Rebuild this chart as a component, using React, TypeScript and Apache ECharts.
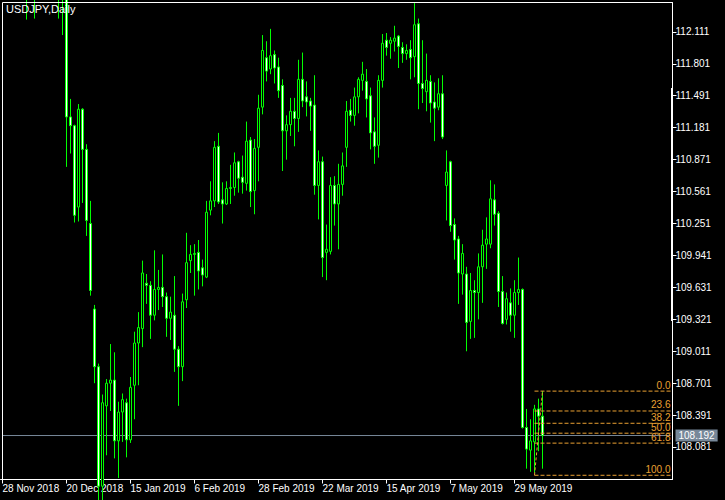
import React, { useEffect, useRef } from 'react';
import * as echarts from 'echarts';

// Trading days shown on the chart (broker calendar, no 25 Dec / 1 Jan bars)
const tradingMonths: [string, number[]][] = [
  ['Nov 2018', [28, 29, 30]],
  ['Dec 2018', [3, 4, 5, 6, 7, 10, 11, 12, 13, 14, 17, 18, 19, 20, 21, 24, 26, 27, 28, 31]],
  ['Jan 2019', [2, 3, 4, 7, 8, 9, 10, 11, 14, 15, 16, 17, 18, 21, 22, 23, 24, 25, 28, 29, 30, 31]],
  ['Feb 2019', [1, 4, 5, 6, 7, 8, 11, 12, 13, 14, 15, 18, 19, 20, 21, 22, 25, 26, 27, 28]],
  ['Mar 2019', [1, 4, 5, 6, 7, 8, 11, 12, 13, 14, 15, 18, 19, 20, 21, 22, 25, 26, 27, 28, 29]],
  ['Apr 2019', [1, 2, 3, 4, 5, 8, 9, 10, 11, 12, 15, 16, 17, 18, 19, 22, 23, 24, 25, 26, 29, 30]],
  ['May 2019', [1, 2, 3, 6, 7, 8, 9, 10, 13, 14, 15, 16, 17, 20, 21, 22, 23, 24, 27, 28, 29, 30, 31]],
  ['Jun 2019', [3, 4, 5, 6, 7]],
];
const categories: string[] = tradingMonths.flatMap(([m, days]) => days.map((d) => `${d} ${m}`));
const TOTAL_SLOTS = 168; // includes empty space to the right of the last bar

const opens = [
  113.80, 113.45, 113.45, 113.55, 113.60, 112.80, 113.20, 112.70, 112.65, 113.30,
  113.35, 113.55, 113.60, 113.40, 112.80, 112.50, 112.50, 111.285, 111.20, 110.41,
  111.36, 110.97, 110.25, 109.42, 108.86, 107.70, 108.48, 108.70, 108.73, 108.14,
  108.42, 108.51, 108.15, 108.68, 109.09, 109.23, 109.67, 109.65, 109.36, 109.61,
  109.63, 109.54, 109.33, 109.36, 109.03, 108.86, 109.51, 109.89, 109.95, 109.97,
  109.82, 109.73, 110.38, 110.47, 111.00, 110.48, 110.44, 110.59, 110.60, 110.85,
  110.70, 110.64, 111.06, 110.57, 110.99, 111.38, 111.86, 111.75, 111.89, 111.77,
  111.59, 111.15, 111.21, 111.34, 111.27, 111.65, 111.48, 111.44, 111.40, 110.62,
  110.85, 109.97, 109.98, 110.62, 110.44, 110.63, 110.99, 111.35, 111.30, 111.48,
  111.64, 111.63, 111.49, 111.14, 111.01, 111.64, 112.03, 112.00, 112.02, 112.07,
  111.96, 111.90, 111.94, 111.87, 112.19, 111.61, 111.53, 111.63, 111.43, 111.38,
  111.51, 110.62, 110.85, 110.24, 110.10, 109.76, 109.76, 109.30, 109.60, 109.58,
  109.83, 110.05, 110.05, 110.48, 110.35, 109.59, 109.32, 109.48, 109.36, 109.58,
  109.61, 108.27, 108.05, 108.13, 108.45, 108.38,
];
const closes = [
  113.45, 113.45, 113.55, 113.60, 112.80, 113.20, 112.70, 112.65, 113.30, 113.35,
  113.55, 113.60, 113.40, 112.80, 112.50, 112.50, 111.285, 111.20, 110.33, 111.36,
  110.97, 110.28, 109.60, 108.86, 107.70, 108.51, 108.70, 108.73, 108.14, 108.42,
  108.54, 108.15, 108.66, 109.09, 109.24, 109.77, 109.65, 109.36, 109.61, 109.63,
  109.54, 109.33, 109.39, 109.03, 108.86, 109.49, 109.87, 109.95, 109.96, 109.79,
  109.75, 110.36, 110.47, 110.99, 110.46, 110.44, 110.59, 110.60, 110.84, 110.69,
  110.65, 111.05, 110.56, 110.98, 111.37, 111.93, 111.73, 111.88, 111.76, 111.54,
  111.15, 111.21, 111.34, 111.27, 111.65, 111.44, 111.43, 111.39, 110.62, 110.85,
  109.92, 110.00, 110.62, 110.44, 110.63, 110.81, 111.34, 111.30, 111.48, 111.65,
  111.70, 111.46, 111.13, 111.00, 111.64, 112.00, 111.96, 112.03, 112.05, 111.97,
  111.90, 111.93, 111.86, 112.18, 111.61, 111.56, 111.64, 111.42, 111.37, 111.51,
  111.09, 110.75, 110.23, 110.09, 109.77, 109.96, 109.29, 109.60, 109.58, 109.83,
  110.04, 110.10, 110.49, 110.34, 109.59, 109.28, 109.52, 109.36, 109.58, 109.61,
  108.27, 108.06, 108.14, 108.45, 108.38, 108.192,
];
const lows = [
  113.30, 113.25, 113.30, 113.40, 112.75, 112.75, 112.23, 112.55, 112.24, 113.00,
  113.20, 113.40, 113.25, 112.60, 112.24, 112.08, 110.80, 110.93, 110.26, 110.27,
  110.45, 110.13, 109.55, 108.70, 104.90, 107.52, 108.00, 108.43, 107.97, 107.78,
  108.13, 107.98, 108.12, 108.35, 108.68, 109.05, 109.47, 109.13, 109.31, 109.41,
  109.44, 109.15, 109.12, 108.81, 108.48, 108.72, 109.43, 109.77, 109.55, 109.61,
  109.64, 109.72, 110.33, 110.41, 110.44, 110.25, 110.43, 110.44, 110.52, 110.55,
  110.54, 110.57, 110.41, 110.34, 110.66, 111.31, 111.63, 111.70, 111.61, 111.47,
  110.76, 110.87, 111.10, 111.00, 111.14, 111.38, 111.29, 111.15, 110.53, 110.29,
  109.73, 109.70, 109.95, 110.23, 110.00, 110.52, 110.80, 111.24, 111.20, 111.32,
  111.54, 111.28, 110.97, 110.83, 110.89, 111.57, 111.88, 111.85, 111.92, 111.76,
  111.81, 111.84, 111.65, 111.67, 111.36, 111.42, 111.34, 111.23, 111.05, 111.35,
  111.07, 110.28, 110.17, 109.90, 109.47, 109.56, 109.01, 109.13, 109.14, 109.32,
  109.48, 109.81, 110.01, 110.23, 109.44, 109.27, 109.27, 109.20, 109.14, 109.46,
  108.26, 107.87, 107.84, 107.83, 108.04, 107.87,
];
const highs = [
  114.00, 113.65, 113.75, 113.85, 113.70, 113.35, 113.25, 113.10, 113.35, 113.60,
  113.70, 113.70, 113.70, 113.50, 112.90, 112.65, 112.60, 111.46, 111.21, 111.41,
  111.37, 111.02, 110.47, 109.46, 108.89, 108.59, 108.74, 109.08, 109.00, 108.52,
  108.60, 108.55, 108.76, 109.20, 109.39, 109.89, 109.76, 109.69, 109.99, 109.80,
  109.95, 109.58, 109.54, 109.74, 109.06, 109.57, 110.16, 110.04, 110.05, 110.09,
  109.90, 110.47, 110.66, 111.05, 111.13, 110.65, 110.66, 110.82, 110.94, 110.86,
  110.91, 111.24, 111.09, 111.07, 111.50, 112.08, 112.02, 112.14, 111.93, 111.86,
  111.65, 111.30, 111.47, 111.47, 111.84, 111.91, 111.63, 111.47, 111.69, 110.96,
  110.90, 110.24, 110.70, 110.71, 110.83, 110.94, 111.44, 111.46, 111.57, 111.67,
  111.82, 111.75, 111.57, 111.28, 111.69, 112.09, 112.10, 112.06, 112.17, 112.08,
  112.01, 111.99, 112.03, 112.39, 112.24, 112.03, 111.90, 111.69, 111.62, 111.66,
  111.69, 110.96, 110.86, 110.30, 110.13, 110.05, 109.83, 109.77, 109.70, 109.96,
  110.19, 110.31, 110.67, 110.63, 110.37, 109.74, 109.58, 109.62, 109.70, 109.92,
  109.62, 108.45, 108.35, 108.49, 108.55, 108.623,
];

const priceTicks = [
  108.081, 108.391, 108.701, 109.011, 109.321, 109.631, 109.941,
  110.251, 110.561, 110.871, 111.181, 111.491, 111.801, 112.111,
];
const Y_MIN = 107.765;
const Y_MAX = 112.396;

const fiboLevels = [0, 23.6, 38.2, 50, 61.8, 100];
const fiboHigh = 108.623;
const fiboLow = 107.806;
const fiboLowIndex = 133;
const fiboHighIndex = 135;

const FONT = '"Liberation Sans", Arial, sans-serif';
const ORANGE = '#eaa032';
const GRAY = '#778899';
const GREEN = '#00ff00';

export default function App() {
  const ref = useRef<HTMLDivElement>(null);

  useEffect(() => {
    if (!ref.current) return;
    const chart = echarts.init(ref.current, null, { renderer: 'svg' });

    const xData = categories.concat(new Array(TOTAL_SLOTS - categories.length).fill(''));
    const candleData = opens.map((o, i) => [o, closes[i], lows[i], highs[i]]);
    const last = closes[closes.length - 1];
    const nBars = categories.length;
    const lastSlot = TOTAL_SLOTS - 1;
    const showEvery = (i: number) => i % 16 === 0 && i < nBars;

    const plainLine = {
      type: 'line',
      silent: true,
      animation: false,
      symbol: 'circle',
      symbolSize: 0,
      showSymbol: true,
      clip: false,
      emphasis: { disabled: true },
      z: 5,
    };

    const fiboSeries = fiboLevels.map((lv) => {
      const v = fiboHigh - ((fiboHigh - fiboLow) * lv) / 100;
      return {
        ...plainLine,
        name: `fibo ${lv}`,
        lineStyle: { color: ORANGE, type: [4, 2], width: 1 },
        itemStyle: { color: ORANGE },
        data: [
          { value: [fiboLowIndex, v], label: { show: false } },
          {
            value: [lastSlot, v],
            label: {
              show: true,
              position: 'top',
              align: 'right',
              distance: 1,
              formatter: lv.toFixed(1),
              color: ORANGE,
              fontSize: 10,
              fontFamily: FONT,
            },
          },
        ],
      };
    });

    const option: any = {
      animation: false,
      backgroundColor: '#000000',
      title: {
        text: 'USDJPY,Daily',
        left: 6,
        top: 3,
        padding: 0,
        textStyle: { color: '#ffffff', fontSize: 11, fontWeight: 'normal', fontFamily: FONT },
      },
      grid: {
        left: 0.5,
        right: 52.5,
        top: 2.5,
        bottom: 20.5,
        containLabel: false,
        outerBoundsMode: 'none',
      },
      xAxis: {
        type: 'category',
        data: xData,
        boundaryGap: true,
        axisLine: { show: true, lineStyle: { color: '#ffffff', width: 1 } },
        axisTick: {
          show: true,
          alignWithLabel: true,
          length: 4,
          interval: (i: number) => showEvery(i),
          lineStyle: { color: '#ffffff' },
        },
        axisLabel: {
          interval: (i: number) => showEvery(i),
          color: '#ffffff',
          fontSize: 10,
          fontFamily: FONT,
          align: 'left',
          margin: 4,
        },
        splitLine: { show: false },
      },
      yAxis: {
        type: 'value',
        position: 'right',
        min: Y_MIN,
        max: Y_MAX,
        scale: true,
        axisLine: { show: true, lineStyle: { color: '#ffffff', width: 1 } },
        axisTick: { show: true, length: 4, customValues: priceTicks, lineStyle: { color: '#ffffff' } },
        axisLabel: {
          customValues: priceTicks,
          formatter: (v: number) => v.toFixed(3),
          color: '#ffffff',
          fontSize: 10,
          fontFamily: FONT,
          margin: 3,
        },
        splitLine: { show: false },
      },
      series: [
        {
          type: 'candlestick',
          data: candleData,
          barWidth: 2,
          clip: true,
          z: 2,
          emphasis: { disabled: true },
          itemStyle: {
            color: '#000000',
            color0: '#ffffff',
            borderColor: GREEN,
            borderColor0: GREEN,
            borderColorDoji: GREEN,
            borderWidth: 1,
          },
        },
        {
          ...plainLine,
          name: 'price',
          z: 1,
          lineStyle: { color: GRAY, type: 'solid', width: 1 },
          itemStyle: { color: GRAY },
          data: [
            { value: [0, last], label: { show: false } },
            { value: [lastSlot, last], label: { show: false } },
          ],
          endLabel: {
            show: true,
            formatter: last.toFixed(3),
            backgroundColor: GRAY,
            color: '#ffffff',
            padding: [1, 3, 1, 3],
            fontSize: 10,
            fontFamily: FONT,
            distance: 5,
          },
        },
        ...fiboSeries,
        {
          ...plainLine,
          name: 'fibo trend',
          lineStyle: { color: ORANGE, type: [3, 2], width: 1 },
          itemStyle: { color: ORANGE },
          data: [
            { value: [fiboLowIndex, fiboLow], label: { show: false } },
            { value: [fiboHighIndex, fiboHigh], label: { show: false } },
          ],
        },
      ],
      graphic: [
        {
          type: 'line',
          silent: true,
          z: 100,
          shape: { x1: 2.5, y1: 2.5, x2: 672.5, y2: 2.5 },
          style: { stroke: '#ffffff', lineWidth: 1 },
        },
        {
          type: 'line',
          silent: true,
          z: 100,
          shape: { x1: 2.5, y1: 2.5, x2: 2.5, y2: 479.5 },
          style: { stroke: '#ffffff', lineWidth: 1 },
        },
        {
          type: 'rect',
          silent: true,
          z: 100,
          shape: { x: 671, y: 88, width: 2, height: 233 },
          style: { fill: '#ffffff' },
        },
      ],
    };

    chart.setOption(option);
    return () => chart.dispose();
  }, []);

  return (
    <div
      ref={ref}
      style={{ position: 'absolute', left: 0, top: 0, width: 725, height: 500, background: '#000000' }}
    />
  );
}
